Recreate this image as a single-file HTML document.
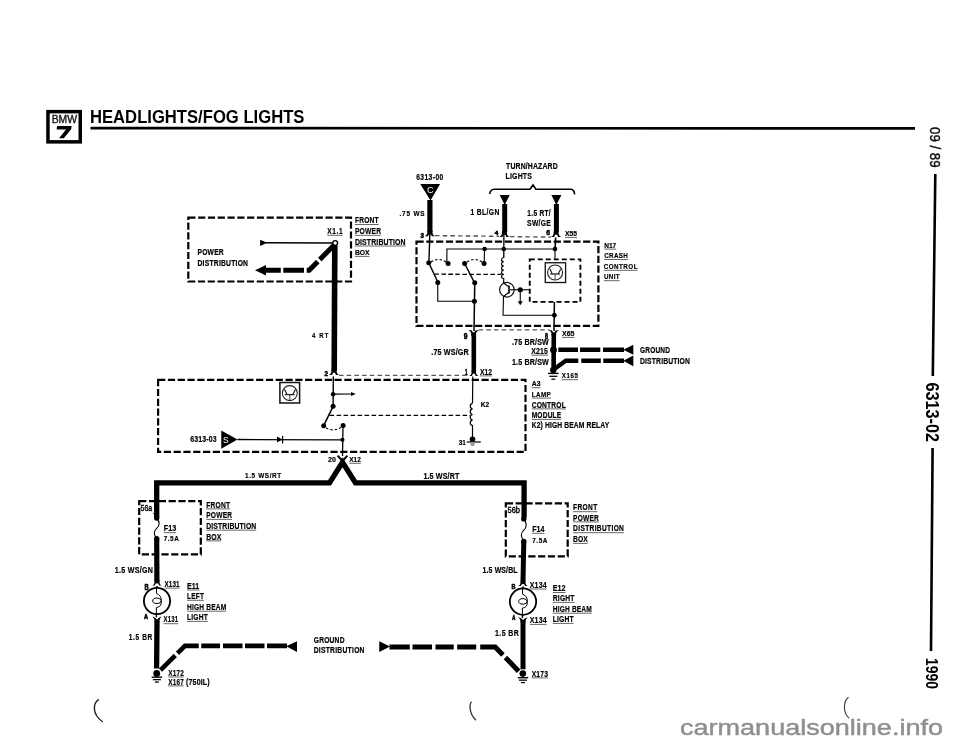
<!DOCTYPE html><html><head><meta charset="utf-8"><style>html,body{margin:0;padding:0;background:#fff;}svg{display:block;filter:grayscale(100%);}text{font-family:"Liberation Sans",sans-serif;}</style></head><body>
<svg width="960" height="744" viewBox="0 0 960 744">
<rect width="960" height="744" fill="#fff"/>
<rect x="47.95" y="111.65" width="32.3" height="30.2" fill="none" stroke="#000" stroke-width="3.5"/>
<text x="51.70" y="122.50" font-size="10.76" font-weight="normal" fill="#111" stroke="#111" stroke-width="0.35" textLength="25.40" lengthAdjust="spacingAndGlyphs">BMW</text>
<polygon points="57.00,126.00 71.60,126.00 71.30,129.00 63.80,138.20 59.00,138.20 66.00,129.60 56.70,129.60" fill="#000"/>
<text x="90.00" y="122.90" font-size="17.88" font-weight="bold" fill="#000" textLength="214.40" lengthAdjust="spacingAndGlyphs">HEADLIGHTS/FOG LIGHTS</text>
<path d="M90.50,128.20 L915.00,128.30" fill="none" stroke="#000" stroke-width="2.7" stroke-linecap="butt" stroke-linejoin="miter"/>
<text transform="translate(929.8,127) rotate(90)" font-size="15.5" fill="#111" stroke="#111" stroke-width="0.45" textLength="40.6" lengthAdjust="spacingAndGlyphs">09 / 89</text>
<path d="M935.30,174.00 L932.80,376.00" fill="none" stroke="#000" stroke-width="2.6" stroke-linecap="butt" stroke-linejoin="miter"/>
<text transform="translate(926,382.6) rotate(90)" font-size="18.3" font-weight="bold" fill="#000" textLength="59.4" lengthAdjust="spacingAndGlyphs">6313-02</text>
<path d="M932.60,448.00 L931.00,651.00" fill="none" stroke="#000" stroke-width="2.6" stroke-linecap="butt" stroke-linejoin="miter"/>
<text transform="translate(925.5,658) rotate(90)" font-size="16.2" font-weight="bold" fill="#000" textLength="31" lengthAdjust="spacingAndGlyphs">1990</text>
<path d="M98.8,699.3 C93,703 91.5,714 102.8,722" fill="none" stroke="#222" stroke-width="1.4" stroke-linecap="butt"/>
<path d="M471.6,701.9 C469.5,704 468.5,713 475.9,720.2" fill="none" stroke="#333" stroke-width="1.3" stroke-linecap="butt"/>
<path d="M848.5,697.3 C844,700.5 842,712 849.1,718.2" fill="none" stroke="#444" stroke-width="1.2" stroke-linecap="butt"/>
<text x="680.00" y="735.30" font-size="21.50" font-weight="normal" fill="#8f8f8f" stroke="#8f8f8f" stroke-width="0.45" textLength="263.00" lengthAdjust="spacingAndGlyphs">carmanualsonline.info</text>
<path d="M188.3,217.7 H351.0 V281.5 H188.3 Z" fill="none" stroke="#000" stroke-width="2.2" stroke-dasharray="7.2 2.6"/>
<text transform="translate(354.90,223.10) scale(0.795202102759875,1)" font-size="8.43" font-weight="bold" fill="#000" stroke="#000" stroke-width="0.2" textLength="29.93" lengthAdjust="spacing">FRONT</text>
<line x1="354.90" y1="224.50" x2="378.70" y2="224.50" stroke="#555" stroke-width="0.9"/>
<text transform="translate(354.90,233.90) scale(0.7558097387042961,1)" font-size="8.87" font-weight="bold" fill="#000" stroke="#000" stroke-width="0.2" textLength="34.53" lengthAdjust="spacing">POWER</text>
<line x1="354.90" y1="235.30" x2="381.00" y2="235.30" stroke="#555" stroke-width="0.9"/>
<text transform="translate(354.90,244.60) scale(0.780047372362665,1)" font-size="8.87" font-weight="bold" fill="#000" stroke="#000" stroke-width="0.2" textLength="65.00" lengthAdjust="spacing">DISTRIBUTION</text>
<line x1="354.90" y1="246.00" x2="405.60" y2="246.00" stroke="#555" stroke-width="0.9"/>
<text x="354.90" y="255.00" font-size="7.85" font-weight="bold" fill="#000" stroke="#000" stroke-width="0.2" textLength="14.60" lengthAdjust="spacingAndGlyphs">BOX</text>
<line x1="354.90" y1="256.40" x2="369.50" y2="256.40" stroke="#555" stroke-width="0.9"/>
<text transform="translate(327.30,233.90) scale(0.8,1)" font-size="8.14" font-weight="bold" fill="#000" stroke="#000" stroke-width="0.2" textLength="19.00" lengthAdjust="spacing">X1.1</text>
<line x1="327.30" y1="235.30" x2="342.50" y2="235.30" stroke="#555" stroke-width="0.9"/>
<text transform="translate(197.50,255.20) scale(0.7844243940497488,1)" font-size="8.58" font-weight="bold" fill="#000" stroke="#000" stroke-width="0.2" textLength="33.40" lengthAdjust="spacing">POWER</text>
<text transform="translate(197.50,266.00) scale(0.8,1)" font-size="8.43" font-weight="bold" fill="#000" stroke="#000" stroke-width="0.2" textLength="63.12" lengthAdjust="spacing">DISTRIBUTION</text>
<path d="M265.00,242.70 L333.00,243.00" fill="none" stroke="#000" stroke-width="1.4" stroke-linecap="butt" stroke-linejoin="miter"/>
<polygon points="260.10,239.70 260.10,246.10 267.10,242.80" fill="#000"/>
<path d="M334.20,245.00 L309.20,270.20 L265.00,270.20" fill="none" stroke="#000" stroke-width="5.0" stroke-linecap="butt" stroke-linejoin="miter"/>
<path d="M280.80,270.20 L283.30,270.20" fill="none" stroke="#fff" stroke-width="7" stroke-linecap="butt" stroke-linejoin="miter"/>
<path d="M304.00,270.20 L306.70,270.20" fill="none" stroke="#fff" stroke-width="7" stroke-linecap="butt" stroke-linejoin="miter"/>
<path d="M317.30,261.20 L319.30,259.20" fill="none" stroke="#fff" stroke-width="8" stroke-linecap="butt" stroke-linejoin="miter"/>
<polygon points="255.00,270.20 266.00,265.00 266.00,275.40" fill="#000"/>
<path d="M334.80,245.50 L334.20,371.00" fill="none" stroke="#000" stroke-width="5.6" stroke-linecap="butt" stroke-linejoin="miter"/>
<circle cx="335.2" cy="243" r="2.4" fill="#fff" stroke="#000" stroke-width="1.4"/>
<text transform="translate(312.00,338.00) scale(0.8,1)" font-size="7.41" font-weight="bold" fill="#000" stroke="#000" stroke-width="0.2" textLength="20.62" lengthAdjust="spacing">4 RT</text>
<text transform="translate(416.25,179.50) scale(0.8,1)" font-size="8.36" font-weight="bold" fill="#000" stroke="#000" stroke-width="0.2" textLength="33.75" lengthAdjust="spacing">6313-00</text>
<polygon points="420.30,183.90 440.10,183.90 430.50,200.50" fill="#000"/>
<text x="427.00" y="193.10" font-size="9.59" font-weight="normal" fill="#fff" textLength="6.60" lengthAdjust="spacingAndGlyphs">C</text>
<path d="M429.90,200.00 L429.90,232.00" fill="none" stroke="#000" stroke-width="5.2" stroke-linecap="butt" stroke-linejoin="miter"/>
<path d="M427.29999999999995,230.8 L427.29999999999995,233.10000000000002 Q426.99999999999994,235.4 424.59999999999997,236.3 L427.9,236.3 Q429.9,231.5 431.9,236.3 L435.2,236.3 Q432.8,235.4 432.5,233.10000000000002 L432.5,230.8 Z" fill="#000" stroke="#000" stroke-width="0" stroke-linecap="butt"/>
<text transform="translate(399.50,215.50) scale(0.8,1)" font-size="7.99" font-weight="bold" fill="#000" stroke="#000" stroke-width="0.2" textLength="31.25" lengthAdjust="spacing">.75 WS</text>
<text x="420.50" y="237.60" font-size="7.56" font-weight="bold" fill="#000" stroke="#000" stroke-width="0.55" textLength="3.50" lengthAdjust="spacingAndGlyphs">3</text>
<text transform="translate(506.10,168.70) scale(0.749690378713828,1)" font-size="9.16" font-weight="bold" fill="#000" stroke="#000" stroke-width="0.2" textLength="68.70" lengthAdjust="spacing">TURN/HAZARD</text>
<text transform="translate(505.60,178.80) scale(0.7847756176796231,1)" font-size="8.87" font-weight="bold" fill="#000" stroke="#000" stroke-width="0.2" textLength="33.51" lengthAdjust="spacing">LIGHTS</text>
<path d="M489.6,194 Q490.5,189.5 494,189.3 L530.1,189.3 L533,185 L535.9,189.3 L571,189.3 Q574,189.5 574.7,194.4" fill="none" stroke="#000" stroke-width="1.6" stroke-linecap="butt"/>
<polygon points="499.70,195.00 509.70,195.00 504.70,204.90" fill="#000"/>
<path d="M504.70,204.00 L504.70,232.00" fill="none" stroke="#000" stroke-width="5.0" stroke-linecap="butt" stroke-linejoin="miter"/>
<path d="M501.9,231.4 L501.9,233.70000000000002 Q501.59999999999997,236.0 499.2,236.9 L502.4,236.9 Q504.4,232.1 506.4,236.9 L509.59999999999997,236.9 Q507.2,236.0 506.9,233.70000000000002 L506.9,231.4 Z" fill="#000" stroke="#000" stroke-width="0" stroke-linecap="butt"/>
<polygon points="551.40,195.00 561.40,195.00 556.40,204.90" fill="#000"/>
<path d="M556.40,204.00 L556.40,232.00" fill="none" stroke="#000" stroke-width="5.0" stroke-linecap="butt" stroke-linejoin="miter"/>
<path d="M553.6,231.4 L553.6,233.70000000000002 Q553.3000000000001,236.0 550.9,236.9 L554.1,236.9 Q556.1,232.1 558.1,236.9 L561.3000000000001,236.9 Q558.9,236.0 558.6,233.70000000000002 L558.6,231.4 Z" fill="#000" stroke="#000" stroke-width="0" stroke-linecap="butt"/>
<text transform="translate(470.50,215.00) scale(0.8,1)" font-size="8.36" font-weight="bold" fill="#000" stroke="#000" stroke-width="0.2" textLength="35.94" lengthAdjust="spacing">1 BL/GN</text>
<text transform="translate(527.30,215.60) scale(0.8,1)" font-size="8.28" font-weight="bold" fill="#000" stroke="#000" stroke-width="0.2" textLength="29.25" lengthAdjust="spacing">1.5 RT/</text>
<text transform="translate(527.10,225.90) scale(0.8,1)" font-size="8.43" font-weight="bold" fill="#000" stroke="#000" stroke-width="0.2" textLength="29.50" lengthAdjust="spacing">SW/GE</text>
<text x="494.70" y="235.20" font-size="6.25" font-weight="bold" fill="#000" stroke="#000" stroke-width="0.55" textLength="3.60" lengthAdjust="spacingAndGlyphs">4</text>
<text x="546.25" y="235.30" font-size="7.85" font-weight="bold" fill="#000" stroke="#000" stroke-width="0.55" textLength="3.75" lengthAdjust="spacingAndGlyphs">6</text>
<text x="565.00" y="236.00" font-size="6.83" font-weight="bold" fill="#000" stroke="#000" stroke-width="0.2" textLength="12.00" lengthAdjust="spacingAndGlyphs">X55</text>
<line x1="565.00" y1="237.40" x2="577.00" y2="237.40" stroke="#555" stroke-width="0.9"/>
<path d="M435.00,235.60 L499.00,236.30" fill="none" stroke="#555" stroke-width="1.4" stroke-linecap="butt" stroke-linejoin="miter" stroke-dasharray="4.5 3.2"/>
<path d="M510.00,236.60 L551.00,237.10" fill="none" stroke="#555" stroke-width="1.4" stroke-linecap="butt" stroke-linejoin="miter" stroke-dasharray="4.5 3.2"/>
<path d="M555.70,237.50 L555.00,249.00" fill="none" stroke="#000" stroke-width="1.6" stroke-linecap="butt" stroke-linejoin="miter"/>
<path d="M416.5,241.7 H598.4 V325.9 H416.5 Z" fill="none" stroke="#000" stroke-width="2.2" stroke-dasharray="7.2 2.6"/>
<text x="604.20" y="247.70" font-size="7.92" font-weight="bold" fill="#000" stroke="#000" stroke-width="0.2" textLength="12.05" lengthAdjust="spacingAndGlyphs">N17</text>
<line x1="604.20" y1="249.10" x2="616.25" y2="249.10" stroke="#555" stroke-width="0.9"/>
<text transform="translate(604.20,258.10) scale(0.8,1)" font-size="7.85" font-weight="bold" fill="#000" stroke="#000" stroke-width="0.2" textLength="29.62" lengthAdjust="spacing">CRASH</text>
<line x1="604.20" y1="259.50" x2="627.90" y2="259.50" stroke="#555" stroke-width="0.9"/>
<text transform="translate(603.75,268.90) scale(0.8,1)" font-size="7.85" font-weight="bold" fill="#000" stroke="#000" stroke-width="0.2" textLength="42.19" lengthAdjust="spacing">CONTROL</text>
<line x1="603.75" y1="270.30" x2="637.50" y2="270.30" stroke="#555" stroke-width="0.9"/>
<text transform="translate(604.00,279.30) scale(0.8,1)" font-size="7.85" font-weight="bold" fill="#000" stroke="#000" stroke-width="0.2" textLength="19.50" lengthAdjust="spacing">UNIT</text>
<line x1="604.00" y1="280.70" x2="619.60" y2="280.70" stroke="#555" stroke-width="0.9"/>
<path d="M429.90,232.00 L428.90,262.70" fill="none" stroke="#000" stroke-width="1.4" stroke-linecap="butt" stroke-linejoin="miter"/>
<path d="M503.90,232.00 L503.75,258.00" fill="none" stroke="#000" stroke-width="1.3" stroke-linecap="butt" stroke-linejoin="miter"/>
<path d="M446.90,263.50 L446.90,249.00 L555.00,249.00" fill="none" stroke="#000" stroke-width="1.1" stroke-linecap="butt" stroke-linejoin="miter"/>
<path d="M484.50,249.00 L484.20,263.50" fill="none" stroke="#000" stroke-width="1.1" stroke-linecap="butt" stroke-linejoin="miter"/>
<circle cx="484.60" cy="249.00" r="2.3" fill="#000"/>
<circle cx="503.75" cy="249.00" r="2.3" fill="#000"/>
<circle cx="555.00" cy="249.00" r="2.3" fill="#000"/>
<circle cx="428.75" cy="262.75" r="2.5" fill="#000"/>
<circle cx="448.10" cy="263.60" r="2.5" fill="#000"/>
<circle cx="464.60" cy="263.50" r="2.5" fill="#000"/>
<circle cx="484.10" cy="263.50" r="2.5" fill="#000"/>
<circle cx="437.75" cy="282.50" r="2.5" fill="#000"/>
<circle cx="474.75" cy="282.75" r="2.5" fill="#000"/>
<circle cx="474.40" cy="301.25" r="2.5" fill="#000"/>
<path d="M428.75,262.75 L437.30,281.00" fill="none" stroke="#000" stroke-width="1.5" stroke-linecap="butt" stroke-linejoin="miter"/>
<path d="M464.60,263.50 L473.60,281.00" fill="none" stroke="#000" stroke-width="1.5" stroke-linecap="butt" stroke-linejoin="miter"/>
<path d="M431,262 Q439,257 446,262" fill="none" stroke="#000" stroke-width="1.1" stroke-linecap="butt" stroke-dasharray="2.5 2"/>
<path d="M467,262 Q475,257 482,262" fill="none" stroke="#000" stroke-width="1.1" stroke-linecap="butt" stroke-dasharray="2.5 2"/>
<path d="M434.40,274.20 L501.30,274.40" fill="none" stroke="#000" stroke-width="1.3" stroke-linecap="butt" stroke-linejoin="miter" stroke-dasharray="4.5 2.5"/>
<path d="M437.75,282.50 L437.75,301.25 L474.40,301.25" fill="none" stroke="#000" stroke-width="1.1" stroke-linecap="butt" stroke-linejoin="miter"/>
<path d="M474.75,282.75 L474.00,331.00" fill="none" stroke="#000" stroke-width="1.5" stroke-linecap="butt" stroke-linejoin="miter"/>
<path d="M503.75,257.5 c-3,0.5 -3,4.2 0,4.2 c-3,0.5 -3,4.2 0,4.2 c-3,0.5 -3,4.2 0,4.2 c-3,0.5 -3,4.2 0,4.2 c-3,0.5 -3,4.2 0,4.2 L503.6,283" fill="none" stroke="#000" stroke-width="1.2" stroke-linecap="butt"/>
<circle cx="506.9" cy="289.75" r="7.3" fill="none" stroke="#111" stroke-width="1.2"/>
<path d="M509.00,285.40 L509.00,293.60" fill="none" stroke="#000" stroke-width="1.6" stroke-linecap="butt" stroke-linejoin="miter"/>
<path d="M503.60,283.00 L509.00,287.00" fill="none" stroke="#000" stroke-width="1.1" stroke-linecap="butt" stroke-linejoin="miter"/>
<path d="M509.00,292.30 L503.50,296.50" fill="none" stroke="#000" stroke-width="1.1" stroke-linecap="butt" stroke-linejoin="miter"/>
<path d="M503.50,296.50 L503.00,315.25 L554.40,315.25" fill="none" stroke="#000" stroke-width="1.1" stroke-linecap="butt" stroke-linejoin="miter"/>
<path d="M510.00,289.75 L529.75,289.75" fill="none" stroke="#000" stroke-width="1.1" stroke-linecap="butt" stroke-linejoin="miter"/>
<circle cx="520.25" cy="289.75" r="2.6" fill="#000"/>
<path d="M520.25,289.75 L520.25,302.00" fill="none" stroke="#000" stroke-width="1.1" stroke-linecap="butt" stroke-linejoin="miter"/>
<polygon points="517.80,301.20 522.80,301.20 520.30,305.20" fill="#000"/>
<path d="M555.00,249.00 L555.00,259.40" fill="none" stroke="#000" stroke-width="1.1" stroke-linecap="butt" stroke-linejoin="miter"/>
<path d="M529.75,259.4 H580.4 V301.9 H529.75 Z" fill="none" stroke="#000" stroke-width="1.9" stroke-dasharray="5 3"/>
<rect x="545.25" y="262.75" width="20.35" height="19.75" fill="none" stroke="#111" stroke-width="1.3"/>
<circle cx="555.1" cy="272.5" r="7.5" fill="none" stroke="#222" stroke-width="1.1"/>
<path d="M550.20,274.00 L559.90,274.00" fill="none" stroke="#222" stroke-width="1.3" stroke-linecap="butt" stroke-linejoin="miter"/>
<path d="M549.80,268.70 L552.20,273.70" fill="none" stroke="#222" stroke-width="1.2" stroke-linecap="butt" stroke-linejoin="miter"/>
<path d="M560.90,268.70 L558.20,273.70" fill="none" stroke="#222" stroke-width="1.2" stroke-linecap="butt" stroke-linejoin="miter"/>
<path d="M555.10,274.00 L555.10,279.70" fill="none" stroke="#444" stroke-width="1.0" stroke-linecap="butt" stroke-linejoin="miter"/>
<path d="M554.40,301.90 L554.00,331.00" fill="none" stroke="#000" stroke-width="1.5" stroke-linecap="butt" stroke-linejoin="miter"/>
<circle cx="554.40" cy="315.25" r="2.4" fill="#000"/>
<path d="M478.60,329.80 L549.40,329.80" fill="none" stroke="#555" stroke-width="1.3" stroke-linecap="butt" stroke-linejoin="miter" stroke-dasharray="4.5 3.2"/>
<path d="M471.20000000000005,335.7 L471.20000000000005,333.4 Q470.90000000000003,331.09999999999997 468.20000000000005,330.2 L471.6,330.2 Q473.6,335.0 475.6,330.2 L479.0,330.2 Q476.3,331.09999999999997 476.0,333.4 L476.0,335.7 Z" fill="#000" stroke="#000" stroke-width="0" stroke-linecap="butt"/>
<path d="M473.80,334.00 L473.80,372.00" fill="none" stroke="#000" stroke-width="4.6" stroke-linecap="butt" stroke-linejoin="miter"/>
<path d="M471.6,370.5 L471.6,372.8 Q471.3,375.1 469.20000000000005,376.0 L471.8,376.0 Q473.8,371.2 475.8,376.0 L478.4,376.0 Q476.3,375.1 476.0,372.8 L476.0,370.5 Z" fill="#000" stroke="#000" stroke-width="0" stroke-linecap="butt"/>
<text x="463.75" y="338.75" font-size="9.08" font-weight="bold" fill="#000" stroke="#000" stroke-width="0.55" textLength="3.75" lengthAdjust="spacingAndGlyphs">9</text>
<text transform="translate(431.25,355.00) scale(0.7918739262097523,1)" font-size="9.08" font-weight="bold" fill="#000" stroke="#000" stroke-width="0.2" textLength="47.36" lengthAdjust="spacing">.75 WS/GR</text>
<text x="465.00" y="374.50" font-size="8.36" font-weight="bold" fill="#000" stroke="#000" stroke-width="0.55" textLength="2.50" lengthAdjust="spacingAndGlyphs">1</text>
<text x="480.00" y="374.50" font-size="9.45" font-weight="bold" fill="#000" stroke="#000" stroke-width="0.2" textLength="12.00" lengthAdjust="spacingAndGlyphs">X12</text>
<line x1="480.00" y1="375.90" x2="492.00" y2="375.90" stroke="#555" stroke-width="0.9"/>
<path d="M551.5,335.7 L551.5,333.4 Q551.2,331.09999999999997 548.5,330.2 L551.8,330.2 Q553.8,335.0 555.8,330.2 L559.0999999999999,330.2 Q556.3999999999999,331.09999999999997 556.0999999999999,333.4 L556.0999999999999,335.7 Z" fill="#000" stroke="#000" stroke-width="0" stroke-linecap="butt"/>
<path d="M553.80,334.00 L553.60,367.00" fill="none" stroke="#000" stroke-width="4.6" stroke-linecap="butt" stroke-linejoin="miter"/>
<circle cx="553.50" cy="350.00" r="3.4" fill="#000"/>
<circle cx="553.30" cy="370.00" r="3.2" fill="#000"/>
<path d="M548.10,373.40 L558.50,373.40" fill="none" stroke="#000" stroke-width="1.4" stroke-linecap="butt" stroke-linejoin="miter"/>
<path d="M549.30,376.30 L557.30,376.30" fill="none" stroke="#000" stroke-width="1.3" stroke-linecap="butt" stroke-linejoin="miter"/>
<path d="M551.40,379.20 L555.20,379.20" fill="none" stroke="#000" stroke-width="1.3" stroke-linecap="butt" stroke-linejoin="miter"/>
<text x="545.00" y="338.75" font-size="9.08" font-weight="bold" fill="#000" stroke="#000" stroke-width="0.55" textLength="3.00" lengthAdjust="spacingAndGlyphs">8</text>
<text x="562.00" y="336.00" font-size="7.99" font-weight="bold" fill="#000" stroke="#000" stroke-width="0.2" textLength="12.50" lengthAdjust="spacingAndGlyphs">X65</text>
<line x1="562.00" y1="337.40" x2="574.50" y2="337.40" stroke="#555" stroke-width="0.9"/>
<text transform="translate(512.00,345.00) scale(0.7846682347059926,1)" font-size="9.08" font-weight="bold" fill="#000" stroke="#000" stroke-width="0.2" textLength="46.84" lengthAdjust="spacing">.75 BR/SW</text>
<text transform="translate(531.25,353.75) scale(0.7658610143182122,1)" font-size="9.08" font-weight="bold" fill="#000" stroke="#000" stroke-width="0.2" textLength="21.87" lengthAdjust="spacing">X215</text>
<line x1="531.25" y1="355.15" x2="548.00" y2="355.15" stroke="#555" stroke-width="0.9"/>
<text transform="translate(512.00,364.50) scale(0.7846682347059926,1)" font-size="9.08" font-weight="bold" fill="#000" stroke="#000" stroke-width="0.2" textLength="46.84" lengthAdjust="spacing">1.5 BR/SW</text>
<text transform="translate(561.70,378.30) scale(0.8,1)" font-size="7.70" font-weight="bold" fill="#000" stroke="#000" stroke-width="0.2" textLength="20.37" lengthAdjust="spacing">X165</text>
<line x1="561.70" y1="379.70" x2="578.00" y2="379.70" stroke="#555" stroke-width="0.9"/>
<path d="M558.30,349.70 L624.00,349.70" fill="none" stroke="#000" stroke-width="4.4" stroke-linecap="butt" stroke-linejoin="miter"/>
<path d="M578.00,349.70 L580.00,349.70" fill="none" stroke="#fff" stroke-width="7" stroke-linecap="butt" stroke-linejoin="miter"/>
<path d="M600.30,349.70 L603.00,349.70" fill="none" stroke="#fff" stroke-width="7" stroke-linecap="butt" stroke-linejoin="miter"/>
<polygon points="623.30,349.70 633.30,344.70 633.30,354.70" fill="#000"/>
<path d="M555.00,368.50 L565.80,360.80 L624.00,360.80" fill="none" stroke="#000" stroke-width="4.4" stroke-linecap="butt" stroke-linejoin="miter"/>
<path d="M578.30,360.80 L581.30,360.80" fill="none" stroke="#fff" stroke-width="7" stroke-linecap="butt" stroke-linejoin="miter"/>
<path d="M600.80,360.80 L603.30,360.80" fill="none" stroke="#fff" stroke-width="7" stroke-linecap="butt" stroke-linejoin="miter"/>
<polygon points="623.30,360.80 633.30,355.60 633.30,366.20" fill="#000"/>
<text transform="translate(640.00,353.00) scale(0.7507917311207986,1)" font-size="8.72" font-weight="bold" fill="#000" stroke="#000" stroke-width="0.2" textLength="39.96" lengthAdjust="spacing">GROUND</text>
<text transform="translate(640.00,363.70) scale(0.7568697861252555,1)" font-size="9.01" font-weight="bold" fill="#000" stroke="#000" stroke-width="0.2" textLength="66.06" lengthAdjust="spacing">DISTRIBUTION</text>
<path d="M331.35,369.5 L331.35,371.8 Q331.05,374.1 328.95000000000005,375.0 L332.0,375.0 Q334.0,370.2 336.0,375.0 L339.04999999999995,375.0 Q336.95,374.1 336.65,371.8 L336.65,369.5 Z" fill="#000" stroke="#000" stroke-width="0" stroke-linecap="butt"/>
<text x="324.40" y="376.20" font-size="6.69" font-weight="bold" fill="#000" stroke="#000" stroke-width="0.55" textLength="3.60" lengthAdjust="spacingAndGlyphs">2</text>
<path d="M339.00,375.30 L469.00,375.30" fill="none" stroke="#555" stroke-width="1.3" stroke-linecap="butt" stroke-linejoin="miter" stroke-dasharray="4.5 3.2"/>
<path d="M158.1,379.9 H525.5 V451.8 H158.1 Z" fill="none" stroke="#000" stroke-width="2.2" stroke-dasharray="7.2 2.6"/>
<text x="531.70" y="386.30" font-size="7.99" font-weight="bold" fill="#000" stroke="#000" stroke-width="0.2" textLength="8.80" lengthAdjust="spacingAndGlyphs">A3</text>
<line x1="531.70" y1="387.70" x2="540.50" y2="387.70" stroke="#555" stroke-width="0.9"/>
<text transform="translate(531.70,396.70) scale(0.8,1)" font-size="7.85" font-weight="bold" fill="#000" stroke="#000" stroke-width="0.2" textLength="23.87" lengthAdjust="spacing">LAMP</text>
<line x1="531.70" y1="398.10" x2="550.80" y2="398.10" stroke="#555" stroke-width="0.9"/>
<text transform="translate(531.70,407.50) scale(0.793651894154057,1)" font-size="8.43" font-weight="bold" fill="#000" stroke="#000" stroke-width="0.2" textLength="42.97" lengthAdjust="spacing">CONTROL</text>
<line x1="531.70" y1="408.90" x2="565.80" y2="408.90" stroke="#555" stroke-width="0.9"/>
<text transform="translate(531.70,418.00) scale(0.7572606349091869,1)" font-size="8.72" font-weight="bold" fill="#000" stroke="#000" stroke-width="0.2" textLength="38.96" lengthAdjust="spacing">MODULE</text>
<line x1="531.70" y1="419.40" x2="561.20" y2="419.40" stroke="#555" stroke-width="0.9"/>
<text transform="translate(531.70,428.30) scale(0.7971448194946006,1)" font-size="8.43" font-weight="bold" fill="#000" stroke="#000" stroke-width="0.2" textLength="97.22" lengthAdjust="spacing">K2) HIGH BEAM RELAY</text>
<rect x="279.9" y="382.5" width="19.7" height="20.5" fill="none" stroke="#111" stroke-width="1.5"/>
<circle cx="289.8" cy="393.1" r="7.5" fill="none" stroke="#222" stroke-width="1.1"/>
<path d="M284.90,394.60 L294.60,394.60" fill="none" stroke="#222" stroke-width="1.3" stroke-linecap="butt" stroke-linejoin="miter"/>
<path d="M284.50,389.30 L286.90,394.30" fill="none" stroke="#222" stroke-width="1.2" stroke-linecap="butt" stroke-linejoin="miter"/>
<path d="M295.60,389.30 L292.90,394.30" fill="none" stroke="#222" stroke-width="1.2" stroke-linecap="butt" stroke-linejoin="miter"/>
<path d="M289.80,394.60 L289.80,400.30" fill="none" stroke="#444" stroke-width="1.0" stroke-linecap="butt" stroke-linejoin="miter"/>
<path d="M333.30,376.50 L333.10,406.30" fill="none" stroke="#000" stroke-width="1.4" stroke-linecap="butt" stroke-linejoin="miter"/>
<circle cx="333.10" cy="394.20" r="2.3" fill="#000"/>
<path d="M333.10,394.20 L352.00,394.00" fill="none" stroke="#000" stroke-width="1.2" stroke-linecap="butt" stroke-linejoin="miter"/>
<polygon points="351.00,392.00 355.80,394.00 351.00,396.00" fill="#000"/>
<circle cx="333.10" cy="406.30" r="2.5" fill="#000"/>
<path d="M333.10,406.30 L323.70,425.70" fill="none" stroke="#000" stroke-width="1.5" stroke-linecap="butt" stroke-linejoin="miter"/>
<circle cx="323.70" cy="425.70" r="2.5" fill="#000"/>
<path d="M329.60,415.30 L470.00,415.30" fill="none" stroke="#000" stroke-width="1.3" stroke-linecap="butt" stroke-linejoin="miter" stroke-dasharray="4.5 2.5"/>
<path d="M326,428 Q334,432 341,427.5" fill="none" stroke="#000" stroke-width="1.1" stroke-linecap="butt" stroke-dasharray="2.5 2"/>
<circle cx="343.10" cy="425.40" r="2.5" fill="#000"/>
<path d="M343.00,425.40 L342.50,456.00" fill="none" stroke="#000" stroke-width="1.3" stroke-linecap="butt" stroke-linejoin="miter"/>
<circle cx="342.40" cy="439.80" r="2.1" fill="#000"/>
<path d="M237.50,439.50 L342.40,439.80" fill="none" stroke="#000" stroke-width="1.3" stroke-linecap="butt" stroke-linejoin="miter"/>
<polygon points="277.00,436.60 282.40,439.60 277.00,442.60" fill="#000"/>
<path d="M282.60,436.10 L282.60,443.60" fill="none" stroke="#000" stroke-width="1.2" stroke-linecap="butt" stroke-linejoin="miter"/>
<polygon points="221.25,430.60 221.25,448.75 237.50,439.40" fill="#000"/>
<text x="223.10" y="443.10" font-size="9.96" font-weight="normal" fill="#fff" textLength="5.65" lengthAdjust="spacingAndGlyphs">S</text>
<text transform="translate(190.25,441.90) scale(0.7606583763361334,1)" font-size="9.16" font-weight="bold" fill="#000" stroke="#000" stroke-width="0.2" textLength="34.64" lengthAdjust="spacing">6313-03</text>
<path d="M472.80,376.50 L472.50,403.30" fill="none" stroke="#000" stroke-width="1.2" stroke-linecap="butt" stroke-linejoin="miter"/>
<path d="M472.5,403.3 c-3,0.5 -3,5 0,5.6 c-3,0.5 -3,5 0,5.6 c-3,0.5 -3,5 0,5.6 c-3,0.5 -3,5 0,5.6 L472.5,439" fill="none" stroke="#000" stroke-width="1.2" stroke-linecap="butt"/>
<circle cx="472.50" cy="439.20" r="2.8" fill="#000"/>
<path d="M466.70,442.00 L480.80,442.00" fill="none" stroke="#000" stroke-width="1.2" stroke-linecap="butt" stroke-linejoin="miter"/>
<circle cx="472.50" cy="444.00" r="2.2" fill="#999"/>
<text x="458.70" y="444.70" font-size="7.27" font-weight="bold" fill="#000" stroke="#000" stroke-width="0.2" textLength="7.10" lengthAdjust="spacingAndGlyphs">31</text>
<text x="480.80" y="407.00" font-size="7.27" font-weight="bold" fill="#000" stroke="#000" stroke-width="0.2" textLength="8.40" lengthAdjust="spacingAndGlyphs">K2</text>
<text x="328.00" y="461.90" font-size="7.70" font-weight="bold" fill="#000" stroke="#000" stroke-width="0.2" textLength="7.90" lengthAdjust="spacingAndGlyphs">20</text>
<text x="349.30" y="461.90" font-size="7.70" font-weight="bold" fill="#000" stroke="#000" stroke-width="0.2" textLength="11.50" lengthAdjust="spacingAndGlyphs">X12</text>
<line x1="349.30" y1="463.30" x2="360.80" y2="463.30" stroke="#555" stroke-width="0.9"/>
<path d="M337.6,455.6 L342.5,461 L347.4,455.6" fill="none" stroke="#000" stroke-width="1.9" stroke-linecap="butt"/>
<path d="M156.70,517.50 L156.70,482.90 L329.50,482.90 L342.50,462.30 L355.50,482.90 L524.10,482.90 L524.10,517.50" fill="none" stroke="#000" stroke-width="5.3" stroke-linecap="butt" stroke-linejoin="miter"/>
<text transform="translate(245.00,478.00) scale(0.8,1)" font-size="7.99" font-weight="bold" fill="#000" stroke="#000" stroke-width="0.2" textLength="45.31" lengthAdjust="spacing">1.5 WS/RT</text>
<text transform="translate(423.40,479.00) scale(0.7559308864848121,1)" font-size="9.45" font-weight="bold" fill="#000" stroke="#000" stroke-width="0.2" textLength="47.62" lengthAdjust="spacing">1.5 WS/RT</text>
<path d="M139.2,501.1 H200.8 V554.3 H139.2 Z" fill="none" stroke="#000" stroke-width="2.2" stroke-dasharray="7.2 2.6"/>
<text x="140.60" y="510.90" font-size="8.72" font-weight="normal" fill="#000" stroke="#000" stroke-width="0.4" textLength="11.60" lengthAdjust="spacingAndGlyphs">56a</text>
<path d="M152.80,513.00 L155.00,515.00" fill="none" stroke="#000" stroke-width="0.8" stroke-linecap="butt" stroke-linejoin="miter"/>
<circle cx="156.70" cy="518.00" r="2.7" fill="#000"/>
<path d="M156.7,518.5 c3.2,2.96 3.2,7.39 0,9.85 c-3.2,2.46 -3.2,6.90 0,9.85" fill="none" stroke="#000" stroke-width="1.1" stroke-linecap="butt"/>
<circle cx="156.70" cy="538.70" r="2.7" fill="#000"/>
<path d="M156.70,538.70 L156.90,581.50" fill="none" stroke="#000" stroke-width="5.2" stroke-linecap="butt" stroke-linejoin="miter"/>
<text x="163.75" y="531.25" font-size="9.08" font-weight="bold" fill="#000" stroke="#000" stroke-width="0.2" textLength="12.50" lengthAdjust="spacingAndGlyphs">F13</text>
<line x1="163.75" y1="532.65" x2="176.25" y2="532.65" stroke="#555" stroke-width="0.9"/>
<text transform="translate(163.75,541.25) scale(0.8,1)" font-size="7.99" font-weight="bold" fill="#000" stroke="#000" stroke-width="0.2" textLength="18.75" lengthAdjust="spacing">7.5A</text>
<text transform="translate(206.25,507.50) scale(0.7363972413793103,1)" font-size="9.08" font-weight="bold" fill="#000" stroke="#000" stroke-width="0.2" textLength="32.25" lengthAdjust="spacing">FRONT</text>
<line x1="206.25" y1="508.90" x2="230.00" y2="508.90" stroke="#555" stroke-width="0.9"/>
<text transform="translate(206.25,518.00) scale(0.7581022650509394,1)" font-size="8.72" font-weight="bold" fill="#000" stroke="#000" stroke-width="0.2" textLength="33.97" lengthAdjust="spacing">POWER</text>
<line x1="206.25" y1="519.40" x2="232.00" y2="519.40" stroke="#555" stroke-width="0.9"/>
<text transform="translate(206.25,528.75) scale(0.7508148278362522,1)" font-size="9.08" font-weight="bold" fill="#000" stroke="#000" stroke-width="0.2" textLength="66.59" lengthAdjust="spacing">DISTRIBUTION</text>
<line x1="206.25" y1="530.15" x2="256.25" y2="530.15" stroke="#555" stroke-width="0.9"/>
<text x="206.25" y="539.50" font-size="8.36" font-weight="bold" fill="#000" stroke="#000" stroke-width="0.2" textLength="15.00" lengthAdjust="spacingAndGlyphs">BOX</text>
<line x1="206.25" y1="540.90" x2="221.25" y2="540.90" stroke="#555" stroke-width="0.9"/>
<path d="M505.8,503.4 H567.7 V556.3 H505.8 Z" fill="none" stroke="#000" stroke-width="2.2" stroke-dasharray="7.2 2.6"/>
<text x="507.50" y="512.70" font-size="8.58" font-weight="normal" fill="#000" stroke="#000" stroke-width="0.4" textLength="12.50" lengthAdjust="spacingAndGlyphs">56b</text>
<circle cx="523.80" cy="518.90" r="2.7" fill="#000"/>
<path d="M523.8,519.4 c3.2,3.23 3.2,8.06 0,10.75 c-3.2,2.69 -3.2,7.52 0,10.75" fill="none" stroke="#000" stroke-width="1.1" stroke-linecap="butt"/>
<circle cx="523.80" cy="541.40" r="2.7" fill="#000"/>
<path d="M523.80,541.40 L523.00,581.50" fill="none" stroke="#000" stroke-width="5.0" stroke-linecap="butt" stroke-linejoin="miter"/>
<text x="532.20" y="531.90" font-size="8.14" font-weight="bold" fill="#000" stroke="#000" stroke-width="0.2" textLength="12.20" lengthAdjust="spacingAndGlyphs">F14</text>
<line x1="532.20" y1="533.30" x2="544.40" y2="533.30" stroke="#555" stroke-width="0.9"/>
<text transform="translate(532.20,542.70) scale(0.8,1)" font-size="7.99" font-weight="bold" fill="#000" stroke="#000" stroke-width="0.2" textLength="19.00" lengthAdjust="spacing">7.5A</text>
<text transform="translate(573.10,510.30) scale(0.8,1)" font-size="8.28" font-weight="bold" fill="#000" stroke="#000" stroke-width="0.2" textLength="30.13" lengthAdjust="spacing">FRONT</text>
<line x1="573.10" y1="511.70" x2="597.20" y2="511.70" stroke="#555" stroke-width="0.9"/>
<text transform="translate(573.10,520.50) scale(0.7964528650713926,1)" font-size="8.28" font-weight="bold" fill="#000" stroke="#000" stroke-width="0.2" textLength="32.27" lengthAdjust="spacing">POWER</text>
<line x1="573.10" y1="521.90" x2="598.80" y2="521.90" stroke="#555" stroke-width="0.9"/>
<text transform="translate(573.10,531.30) scale(0.8,1)" font-size="8.28" font-weight="bold" fill="#000" stroke="#000" stroke-width="0.2" textLength="63.50" lengthAdjust="spacing">DISTRIBUTION</text>
<line x1="573.10" y1="532.70" x2="623.90" y2="532.70" stroke="#555" stroke-width="0.9"/>
<text x="573.10" y="542.00" font-size="8.43" font-weight="bold" fill="#000" stroke="#000" stroke-width="0.2" textLength="14.60" lengthAdjust="spacingAndGlyphs">BOX</text>
<line x1="573.10" y1="543.40" x2="587.70" y2="543.40" stroke="#555" stroke-width="0.9"/>
<text transform="translate(114.70,572.60) scale(0.8,1)" font-size="8.87" font-weight="bold" fill="#000" stroke="#000" stroke-width="0.2" textLength="47.75" lengthAdjust="spacing">1.5 WS/GN</text>
<text transform="translate(482.50,573.30) scale(0.7258654534996314,1)" font-size="9.59" font-weight="bold" fill="#000" stroke="#000" stroke-width="0.2" textLength="48.36" lengthAdjust="spacing">1.5 WS/BL</text>
<path d="M154.5,580.0 L154.5,581.4 Q154.5,584.8 152.1,585.4 L154.9,585.4 A2.1,2.1 0 0 1 159.1,585.4 L161.9,585.4 Q159.5,584.8 159.5,581.4 L159.5,580.0 Z" fill="#000" stroke="#000" stroke-width="0" stroke-linecap="butt"/>
<path d="M157.00,586.00 L157.00,587.90" fill="none" stroke="#000" stroke-width="1.6" stroke-linecap="butt" stroke-linejoin="miter"/>
<circle cx="157.00" cy="601.00" r="13.1" fill="none" stroke="#000" stroke-width="1.8"/>
<path d="M156.5,587.9 L156.5,593.5 Q161.5,595.5 161.3,600.5 Q161.0,603.6 157.0,603.6 Q152.7,603.5 152.7,601.0 Q152.7,598.0 157.0,598.0 Q161.3,598.5 161.3,601.5 Q161.5,607.0 156.4,607.5 L156.4,614.1" fill="none" stroke="#000" stroke-width="1.0" stroke-linecap="butt"/>
<path d="M156.40,614.10 L156.40,617.30" fill="none" stroke="#000" stroke-width="1.4" stroke-linecap="butt" stroke-linejoin="miter"/>
<path d="M152.4,616.6 Q154.5,617.2 155.6,618.2 L157.0,619.4 L158.4,618.2 Q159.5,617.2 161.6,616.6 Q159.7,618.5 159.5,620.6 L159.5,622.0 L154.5,622.0 L154.5,620.6 Q154.3,618.5 152.4,616.6 Z" fill="#000" stroke="#000" stroke-width="0" stroke-linecap="butt"/>
<path d="M157.00,621.00 L156.60,668.60" fill="none" stroke="#000" stroke-width="5.3" stroke-linecap="butt" stroke-linejoin="miter"/>
<text x="144.40" y="589.50" font-size="8.14" font-weight="bold" fill="#000" stroke="#000" stroke-width="0.55" textLength="4.20" lengthAdjust="spacingAndGlyphs">B</text>
<text x="144.00" y="618.70" font-size="6.40" font-weight="bold" fill="#000" stroke="#000" stroke-width="0.55" textLength="4.00" lengthAdjust="spacingAndGlyphs">A</text>
<text transform="translate(164.50,586.70) scale(0.644046631555186,1)" font-size="9.74" font-weight="bold" fill="#000" stroke="#000" stroke-width="0.2" textLength="23.45" lengthAdjust="spacing">X131</text>
<line x1="164.50" y1="588.10" x2="179.60" y2="588.10" stroke="#555" stroke-width="0.9"/>
<text transform="translate(163.60,622.30) scale(0.6093604426917335,1)" font-size="9.88" font-weight="bold" fill="#000" stroke="#000" stroke-width="0.2" textLength="23.80" lengthAdjust="spacing">X131</text>
<line x1="163.60" y1="623.70" x2="178.10" y2="623.70" stroke="#555" stroke-width="0.9"/>
<text x="187.10" y="588.60" font-size="8.28" font-weight="bold" fill="#000" stroke="#000" stroke-width="0.2" textLength="12.20" lengthAdjust="spacingAndGlyphs">E11</text>
<line x1="187.10" y1="590.00" x2="199.30" y2="590.00" stroke="#555" stroke-width="0.9"/>
<text transform="translate(187.10,598.90) scale(0.8,1)" font-size="8.14" font-weight="bold" fill="#000" stroke="#000" stroke-width="0.2" textLength="21.13" lengthAdjust="spacing">LEFT</text>
<line x1="187.10" y1="600.30" x2="204.00" y2="600.30" stroke="#555" stroke-width="0.9"/>
<text transform="translate(187.10,609.80) scale(0.7355008112521901,1)" font-size="9.01" font-weight="bold" fill="#000" stroke="#000" stroke-width="0.2" textLength="53.16" lengthAdjust="spacing">HIGH BEAM</text>
<line x1="187.10" y1="611.20" x2="226.20" y2="611.20" stroke="#555" stroke-width="0.9"/>
<text transform="translate(187.10,620.00) scale(0.7676239216503443,1)" font-size="8.72" font-weight="bold" fill="#000" stroke="#000" stroke-width="0.2" textLength="26.97" lengthAdjust="spacing">LIGHT</text>
<line x1="187.10" y1="621.40" x2="207.80" y2="621.40" stroke="#555" stroke-width="0.9"/>
<text transform="translate(128.80,639.90) scale(0.8,1)" font-size="8.14" font-weight="bold" fill="#000" stroke="#000" stroke-width="0.2" textLength="29.38" lengthAdjust="spacing">1.5 BR</text>
<circle cx="156.70" cy="673.40" r="3.4" fill="#000"/>
<path d="M151.70,677.20 L162.10,677.20" fill="none" stroke="#000" stroke-width="1.4" stroke-linecap="butt" stroke-linejoin="miter"/>
<path d="M152.90,679.65 L160.90,679.65" fill="none" stroke="#000" stroke-width="1.3" stroke-linecap="butt" stroke-linejoin="miter"/>
<path d="M155.00,682.10 L158.80,682.10" fill="none" stroke="#000" stroke-width="1.3" stroke-linecap="butt" stroke-linejoin="miter"/>
<text transform="translate(168.30,675.60) scale(0.709813409996411,1)" font-size="9.01" font-weight="bold" fill="#000" stroke="#000" stroke-width="0.2" textLength="21.70" lengthAdjust="spacing">X172</text>
<line x1="168.30" y1="677.00" x2="183.70" y2="677.00" stroke="#555" stroke-width="0.9"/>
<text transform="translate(168.30,684.50) scale(0.6667944154511765,1)" font-size="9.59" font-weight="bold" fill="#000" stroke="#000" stroke-width="0.2" textLength="23.10" lengthAdjust="spacing">X167</text>
<line x1="168.30" y1="685.90" x2="183.70" y2="685.90" stroke="#555" stroke-width="0.9"/>
<text transform="translate(186.00,684.50) scale(0.743583156298755,1)" font-size="9.59" font-weight="bold" fill="#000" stroke="#000" stroke-width="0.2" textLength="31.87" lengthAdjust="spacing">(750IL)</text>
<path d="M520.5,580.6 L520.5,582.0 Q520.5,585.4 518.1,586.0 L520.9,586.0 A2.1,2.1 0 0 1 525.1,586.0 L527.9,586.0 Q525.5,585.4 525.5,582.0 L525.5,580.6 Z" fill="#000" stroke="#000" stroke-width="0" stroke-linecap="butt"/>
<path d="M523.00,586.60 L523.00,588.40" fill="none" stroke="#000" stroke-width="1.6" stroke-linecap="butt" stroke-linejoin="miter"/>
<circle cx="523.00" cy="601.60" r="13.2" fill="none" stroke="#000" stroke-width="1.8"/>
<path d="M522.5,588.4 L522.5,594.1 Q527.5,596.1 527.3,601.1 Q527.0,604.2 523.0,604.2 Q518.7,604.1 518.7,601.6 Q518.7,598.6 523.0,598.6 Q527.3,599.1 527.3,602.1 Q527.5,607.6 522.4,608.1 L522.4,614.8000000000001" fill="none" stroke="#000" stroke-width="1.0" stroke-linecap="butt"/>
<path d="M522.40,614.80 L522.40,618.00" fill="none" stroke="#000" stroke-width="1.4" stroke-linecap="butt" stroke-linejoin="miter"/>
<path d="M518.4,617.2 Q520.5,617.8000000000001 521.6,618.8000000000001 L523.0,620.0 L524.4,618.8000000000001 Q525.5,617.8000000000001 527.6,617.2 Q525.7,619.1 525.5,621.2 L525.5,622.6 L520.5,622.6 L520.5,621.2 Q520.3,619.1 518.4,617.2 Z" fill="#000" stroke="#000" stroke-width="0" stroke-linecap="butt"/>
<path d="M523.00,621.00 L523.00,669.30" fill="none" stroke="#000" stroke-width="5.0" stroke-linecap="butt" stroke-linejoin="miter"/>
<text x="511.40" y="589.30" font-size="7.99" font-weight="bold" fill="#000" stroke="#000" stroke-width="0.55" textLength="4.00" lengthAdjust="spacingAndGlyphs">B</text>
<text x="511.90" y="619.60" font-size="7.85" font-weight="bold" fill="#000" stroke="#000" stroke-width="0.55" textLength="3.50" lengthAdjust="spacingAndGlyphs">A</text>
<text transform="translate(529.80,587.60) scale(0.7386030448074637,1)" font-size="9.45" font-weight="bold" fill="#000" stroke="#000" stroke-width="0.2" textLength="22.75" lengthAdjust="spacing">X134</text>
<line x1="529.80" y1="589.00" x2="546.60" y2="589.00" stroke="#555" stroke-width="0.9"/>
<text transform="translate(529.80,623.00) scale(0.716555192723654,1)" font-size="9.74" font-weight="bold" fill="#000" stroke="#000" stroke-width="0.2" textLength="23.45" lengthAdjust="spacing">X134</text>
<line x1="529.80" y1="624.40" x2="546.60" y2="624.40" stroke="#555" stroke-width="0.9"/>
<text x="552.80" y="591.10" font-size="8.87" font-weight="bold" fill="#000" stroke="#000" stroke-width="0.2" textLength="12.70" lengthAdjust="spacingAndGlyphs">E12</text>
<line x1="552.80" y1="592.50" x2="565.50" y2="592.50" stroke="#555" stroke-width="0.9"/>
<text transform="translate(552.80,601.00) scale(0.7389412047036306,1)" font-size="9.16" font-weight="bold" fill="#000" stroke="#000" stroke-width="0.2" textLength="29.37" lengthAdjust="spacing">RIGHT</text>
<line x1="552.80" y1="602.40" x2="574.50" y2="602.40" stroke="#555" stroke-width="0.9"/>
<text transform="translate(552.80,611.80) scale(0.721974977310027,1)" font-size="9.16" font-weight="bold" fill="#000" stroke="#000" stroke-width="0.2" textLength="54.02" lengthAdjust="spacing">HIGH BEAM</text>
<line x1="552.80" y1="613.20" x2="591.80" y2="613.20" stroke="#555" stroke-width="0.9"/>
<text transform="translate(552.80,622.00) scale(0.715422071906009,1)" font-size="9.45" font-weight="bold" fill="#000" stroke="#000" stroke-width="0.2" textLength="29.21" lengthAdjust="spacing">LIGHT</text>
<line x1="552.80" y1="623.40" x2="573.70" y2="623.40" stroke="#555" stroke-width="0.9"/>
<text transform="translate(495.10,636.40) scale(0.8,1)" font-size="8.72" font-weight="bold" fill="#000" stroke="#000" stroke-width="0.2" textLength="29.50" lengthAdjust="spacing">1.5 BR</text>
<circle cx="522.80" cy="673.60" r="3.3" fill="#000"/>
<path d="M517.80,677.70 L528.20,677.70" fill="none" stroke="#000" stroke-width="1.4" stroke-linecap="butt" stroke-linejoin="miter"/>
<path d="M519.00,680.15 L527.00,680.15" fill="none" stroke="#000" stroke-width="1.3" stroke-linecap="butt" stroke-linejoin="miter"/>
<path d="M521.10,682.60 L524.90,682.60" fill="none" stroke="#000" stroke-width="1.3" stroke-linecap="butt" stroke-linejoin="miter"/>
<text transform="translate(531.70,676.50) scale(0.6808027014900718,1)" font-size="9.88" font-weight="bold" fill="#000" stroke="#000" stroke-width="0.2" textLength="23.80" lengthAdjust="spacing">X173</text>
<line x1="531.70" y1="677.90" x2="547.90" y2="677.90" stroke="#555" stroke-width="0.9"/>
<path d="M160.50,670.20 L185.00,645.90 L287.00,645.90" fill="none" stroke="#000" stroke-width="4.6" stroke-linecap="butt" stroke-linejoin="miter"/>
<path d="M198.75,646.25 L201.25,646.25" fill="none" stroke="#fff" stroke-width="7" stroke-linecap="butt" stroke-linejoin="miter"/>
<path d="M220.00,646.25 L223.00,646.25" fill="none" stroke="#fff" stroke-width="7" stroke-linecap="butt" stroke-linejoin="miter"/>
<path d="M242.50,646.25 L245.00,646.25" fill="none" stroke="#fff" stroke-width="7" stroke-linecap="butt" stroke-linejoin="miter"/>
<path d="M264.50,646.25 L267.00,646.25" fill="none" stroke="#fff" stroke-width="7" stroke-linecap="butt" stroke-linejoin="miter"/>
<path d="M175.40,655.60 L177.60,653.40" fill="none" stroke="#fff" stroke-width="8" stroke-linecap="butt" stroke-linejoin="miter"/>
<polygon points="286.25,646.25 297.00,641.25 297.00,652.00" fill="#000"/>
<text transform="translate(313.75,642.60) scale(0.7960981286884238,1)" font-size="8.43" font-weight="bold" fill="#000" stroke="#000" stroke-width="0.2" textLength="38.63" lengthAdjust="spacing">GROUND</text>
<text transform="translate(313.75,652.90) scale(0.8,1)" font-size="8.43" font-weight="bold" fill="#000" stroke="#000" stroke-width="0.2" textLength="63.44" lengthAdjust="spacing">DISTRIBUTION</text>
<polygon points="379.25,641.20 379.25,652.00 390.00,646.60" fill="#000"/>
<path d="M389.50,646.90 L495.20,646.90 L518.60,671.20" fill="none" stroke="#000" stroke-width="5.0" stroke-linecap="butt" stroke-linejoin="miter"/>
<path d="M409.80,646.70 L412.50,646.70" fill="none" stroke="#fff" stroke-width="7" stroke-linecap="butt" stroke-linejoin="miter"/>
<path d="M432.00,646.70 L435.50,646.70" fill="none" stroke="#fff" stroke-width="7" stroke-linecap="butt" stroke-linejoin="miter"/>
<path d="M453.70,646.70 L457.20,646.70" fill="none" stroke="#fff" stroke-width="7" stroke-linecap="butt" stroke-linejoin="miter"/>
<path d="M476.20,646.70 L480.20,646.70" fill="none" stroke="#fff" stroke-width="7" stroke-linecap="butt" stroke-linejoin="miter"/>
<path d="M503.30,654.60 L505.80,657.10" fill="none" stroke="#fff" stroke-width="8" stroke-linecap="butt" stroke-linejoin="miter"/>
</svg></body></html>
